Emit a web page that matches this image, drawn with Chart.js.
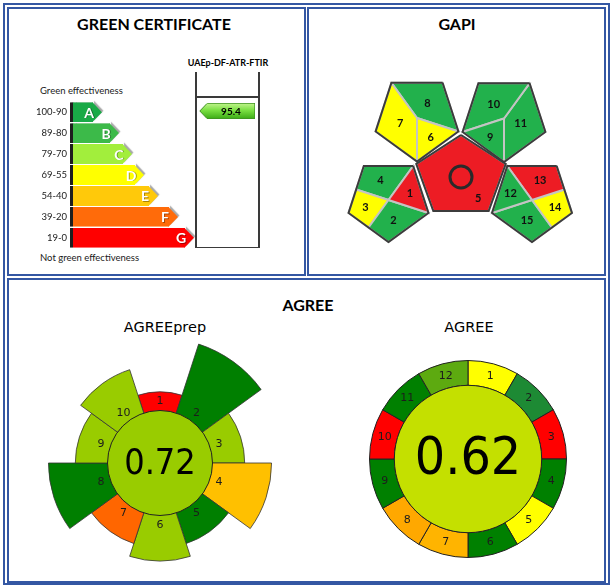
<!DOCTYPE html>
<html>
<head>
<meta charset="utf-8">
<title>Greenness assessment</title>
<script src="https://cdn.jsdelivr.net/npm/chart.js@4.4.1/dist/chart.umd.min.js"></script>
<style>
  body { margin: 0; background: #fff; }
  #page { position: relative; width: 614px; height: 586px; overflow: hidden; font-family: Lato, sans-serif; color: #000; }
  .box { position: absolute; box-sizing: border-box; border: 2px solid #3457a3; }
  .txt { position: absolute; white-space: nowrap; line-height: 1; }
  .title { font-weight: bold; font-size: 16px; text-align: center; }
  .sub { font-family: 'DejaVu Sans', sans-serif; font-size: 14.5px; text-align: center; }
  .small { font-size: 9.5px; color: #1a1a1a; }
  .line { position: absolute; background: #3a3a3a; }
  canvas { position: absolute; }
</style>
</head>
<body>
<div id="page">
  <div class="box" style="left:3px;top:3px;width:607px;height:582px"></div>
  <div class="box" style="left:7px;top:7px;width:299px;height:269px"></div>
  <div class="box" style="left:307px;top:7px;width:299px;height:269px"></div>
  <div class="box" style="left:7px;top:278px;width:599px;height:305px"></div>

  <div class="txt title" style="left:4px;top:16px;width:300px">GREEN CERTIFICATE</div>
  <div class="txt title" style="left:307px;top:16px;width:300px">GAPI</div>
  <div class="txt title" style="left:158px;top:297px;width:300px">AGREE</div>
  <div class="txt sub" style="left:105px;top:320px;width:120px">AGREEprep</div>
  <div class="txt sub" style="left:409px;top:320px;width:120px">AGREE</div>

  <div class="txt small" style="left:40px;top:86px">Green effectiveness</div>
  <div class="txt small" style="left:40px;top:253px">Not green effectiveness</div>

  <div class="txt" id="methodName" style="left:178px;top:58px;width:100px;text-align:center;font-weight:bold;font-size:9px"></div>
  <div class="line" style="left:195px;top:72px;width:1.5px;height:176px"></div>
  <div class="line" style="left:258px;top:72px;width:1.5px;height:176px"></div>
  <div class="line" style="left:195px;top:96px;width:64.5px;height:1.5px"></div>
  <div class="line" style="left:195px;top:246.5px;width:64.5px;height:1.5px"></div>

  <canvas id="grades" width="168" height="164" style="left:30px;top:93px"></canvas>
  <canvas id="score" width="60" height="22" style="left:198px;top:100px"></canvas>
  <canvas id="gapi" width="307" height="276" style="left:307px;top:0px"></canvas>
  <canvas id="prep" width="250" height="250" style="left:35px;top:338px"></canvas>
  <canvas id="agree" width="198" height="198" style="left:369px;top:360px"></canvas>
</div>
<script>
// ---------- data ----------
const gradeLetters = ['A', 'B', 'C', 'D', 'E', 'F', 'G'];
const gradeRanges = ['100-90', '89-80', '79-70', '69-55', '54-40', '39-20', '19-0'];
const gradeBarLengths = [23, 40, 53, 65, 79, 99, 115];
const gradeColors = ['#19aa47', '#3cba49', '#a2ee3c', '#ffff00', '#ffc90a', '#ff6b0a', '#ff0000'];
const methodName = 'UAEp-DF-ATR-FTIR';
const methodScore = 95.4;

const gapiFields = ['1', '2', '3', '4', '5', '6', '7', '8', '9', '10', '11', '12', '13', '14', '15'];
const gapiRatings = ['red', 'green', 'yellow', 'green', 'red', 'yellow', 'yellow', 'green',
                     'green', 'green', 'green', 'green', 'red', 'yellow', 'green'];

const prepCriteria = ['1', '2', '3', '4', '5', '6', '7', '8', '9', '10'];
const prepWeights = [1, 5, 2, 4, 2, 3, 2, 4, 2, 3];
const prepColors = ['#ff0000', '#007f00', '#99cc00', '#ffc000', '#007f00',
                    '#99cc00', '#ff6600', '#007f00', '#99cc00', '#99cc00'];
const prepScore = 0.72;

const agreeCriteria = ['1', '2', '3', '4', '5', '6', '7', '8', '9', '10', '11', '12'];
const agreeWeights = [1, 1, 1, 1, 1, 1, 1, 1, 1, 1, 1, 1];
const agreeColors = ['#ffff00', '#1d8a34', '#ff0000', '#008000', '#ffff00', '#008000',
                     '#ffb400', '#ffa800', '#008000', '#ff0000', '#008000', '#5daa10'];
const agreeScore = 0.62;

document.getElementById('methodName').textContent = methodName;

// ---------- green certificate ----------
function makeArrowTips(cfg) {
  return {
    id: 'arrowTips',
    beforeDatasetsDraw(chart) {
      const ctx = chart.ctx;
      ctx.save();
      if (cfg.shadow) {
        ctx.shadowColor = 'rgba(0,0,0,0.35)';
        ctx.shadowOffsetX = 1.5;
        ctx.shadowOffsetY = -1.5;
        ctx.shadowBlur = 1;
      }
    },
    afterDatasetsDraw(chart) {
      const ctx = chart.ctx;
      const bars = chart.getDatasetMeta(0).data;
      bars.forEach(bar => {
        const dir = Math.sign(bar.x - bar.base) || 1;
        const h = bar.height;
        const top = bar.y - h / 2, bot = bar.y + h / 2;
        ctx.beginPath();
        ctx.moveTo(bar.x - dir * 0.5, top);
        ctx.lineTo(bar.x + dir * h * 0.45, bar.y);
        ctx.lineTo(bar.x - dir * 0.5, bot);
        ctx.closePath();
        ctx.fillStyle = bar.options.backgroundColor;
        ctx.fill();
        if (cfg.stroke) {
          ctx.beginPath();
          ctx.moveTo(bar.x, top + 0.5);
          ctx.lineTo(bar.x + dir * h * 0.45, bar.y);
          ctx.lineTo(bar.x, bot - 0.5);
          ctx.strokeStyle = cfg.stroke;
          ctx.lineWidth = 1;
          ctx.stroke();
        }
      });
      ctx.restore();

      ctx.save();
      ctx.textAlign = 'center';
      ctx.textBaseline = 'middle';
      bars.forEach((bar, i) => {
        if (cfg.letters) {
          ctx.font = 'bold 14px Lato';
          ctx.fillStyle = 'rgba(0,0,0,0.35)';
          ctx.fillText(cfg.letters[i], bar.x - 3, bar.y + 1.5);
          ctx.fillStyle = '#fff';
          ctx.fillText(cfg.letters[i], bar.x - 4, bar.y + 1);
        }
        if (cfg.values) {
          ctx.font = 'bold 10px Lato';
          ctx.fillStyle = '#000';
          ctx.fillText(cfg.values[i].toFixed(1), (bar.x + bar.base) / 2, bar.y + 0.5);
        }
      });
      ctx.restore();
    }
  };
}

new Chart(document.getElementById('grades'), {
  type: 'bar',
  data: {
    labels: gradeRanges,
    datasets: [{
      data: gradeBarLengths,
      backgroundColor: gradeColors,
      borderColor: '#1e1e1e',
      borderWidth: { left: 3, right: 0, top: 0, bottom: 0 },
      borderSkipped: false,
      barPercentage: 0.95,
      categoryPercentage: 1
    }]
  },
  options: {
    indexAxis: 'y',
    responsive: false,
    animation: false,
    layout: { padding: { top: 0, bottom: 0, right: 3 } },
    plugins: { legend: { display: false }, tooltip: { enabled: false } },
    scales: {
      x: { display: false, min: 0, max: 125 },
      y: {
        grid: { display: false, drawTicks: false },
        border: { display: false },
        ticks: { color: '#1a1a1a', font: { family: 'Lato', size: 9.5 }, padding: 3 },
        afterFit(scale) { scale.width = 40; }
      }
    }
  },
  plugins: [makeArrowTips({ letters: gradeLetters, shadow: true })]
});

function scoreFill(c) {
  const area = c.chart.chartArea;
  if (!area) return '#6fd83a';
  const g = c.chart.ctx.createLinearGradient(0, area.top, 0, area.bottom);
  g.addColorStop(0, '#c4f590');
  g.addColorStop(0.45, '#7be043');
  g.addColorStop(1, '#3aa914');
  return g;
}

new Chart(document.getElementById('score'), {
  type: 'bar',
  data: {
    labels: [methodName],
    datasets: [{
      data: [methodScore],
      backgroundColor: scoreFill,
      borderColor: '#3f9222',
      borderWidth: 1,
      borderSkipped: 'end',
      barPercentage: 1,
      categoryPercentage: 1
    }]
  },
  options: {
    indexAxis: 'y',
    responsive: false,
    animation: false,
    layout: { padding: { left: 6.7, right: 3, top: 3, bottom: 3 } },
    plugins: { legend: { display: false }, tooltip: { enabled: false } },
    scales: {
      x: { display: false, min: 0, max: 100, reverse: true },
      y: { display: false }
    }
  },
  plugins: [makeArrowTips({ values: [methodScore], stroke: '#3f9222' })]
});

// ---------- GAPI ----------
const gapiShades = { green: '#22b14c', yellow: '#ffff00', red: '#ed1c24' };
// pentagon frames in panel pixels: centre, radii, angle of first corner
const gapiPentagons = {
  ul: { cx: 110, cy: 118, rx: 43.5, ry: 43.5, rot: 36 },
  ur: { cx: 197, cy: 118.5, rx: 43.5, ry: 43.5, rot: 36 },
  ll: { cx: 81.5, cy: 200, rx: 42, ry: 42, rot: 36 },
  lr: { cx: 225, cy: 200, rx: 42, ry: 42, rot: 36 },
  mid: { cx: 154, cy: 177, rx: 47, ry: 42, rot: 0 }
};
// corners (v), edge midpoints (m) and hub (c) making up each field
const gapiShapes = [
  ['ll', ['c', 'v0', 'v1']],
  ['ll', ['c', 'v1', 'v2', 'm23']],
  ['ll', ['c', 'm23', 'v3', 'm34']],
  ['ll', ['v4', 'v0', 'c', 'm34']],
  ['mid', ['v0', 'v1', 'v2', 'v3', 'v4']],
  ['ul', ['c', 'v2', 'v1']],
  ['ul', ['v4', 'v3', 'v2', 'c']],
  ['ul', ['c', 'v1', 'v0', 'v4']],
  ['ur', ['c', 'v2', 'v3']],
  ['ur', ['c', 'v3', 'v4', 'v0']],
  ['ur', ['c', 'v0', 'v1', 'v2']],
  ['lr', ['c', 'v4', 'v3']],
  ['lr', ['c', 'v4', 'v0', 'm01']],
  ['lr', ['c', 'm01', 'v1', 'm12']],
  ['lr', ['c', 'm12', 'v2', 'v3']]
];

function pentPoint(p, key) {
  if (key === 'c') return { x: p.cx, y: p.cy };
  if (key[0] === 'v') {
    const a = (p.rot + Number(key[1]) * 72) * Math.PI / 180;
    return { x: p.cx + p.rx * Math.sin(a), y: p.cy - p.ry * Math.cos(a) };
  }
  const a = pentPoint(p, 'v' + key[1]), b = pentPoint(p, 'v' + key[2]);
  return { x: (a.x + b.x) / 2, y: (a.y + b.y) / 2 };
}

const fieldPoints = gapiShapes.map(([name, keys]) => keys.map(k => pentPoint(gapiPentagons[name], k)));
const closed = pts => pts.concat([pts[0]]);

const gapiSets = fieldPoints.map((pts, i) => ({
  label: gapiFields[i],
  data: closed(pts),
  backgroundColor: gapiShades[gapiRatings[i]],
  borderColor: '#c4c4c4',
  borderWidth: 2,
  fill: 'shape',
  pointRadius: 0,
  tension: 0,
  order: 2
}));
Object.keys(gapiPentagons).forEach(name => {
  const p = gapiPentagons[name];
  gapiSets.push({
    data: closed(['v0', 'v1', 'v2', 'v3', 'v4'].map(k => pentPoint(p, k))),
    borderColor: '#3c3c3c',
    borderWidth: 2,
    fill: false,
    pointRadius: 0,
    tension: 0,
    order: 1
  });
});
gapiSets.push({
  data: [pentPoint(gapiPentagons.mid, 'c')],
  showLine: false,
  pointRadius: 11,
  pointBorderWidth: 3,
  pointBorderColor: '#2a2a2a',
  pointBackgroundColor: 'rgba(0,0,0,0)',
  order: 0
});

const gapiLabels = {
  id: 'gapiLabels',
  afterDatasetsDraw(chart) {
    const ctx = chart.ctx, sx = chart.scales.x, sy = chart.scales.y;
    ctx.save();
    ctx.font = 'bold 11px Lato';
    ctx.fillStyle = '#111';
    ctx.textAlign = 'center';
    ctx.textBaseline = 'middle';
    fieldPoints.forEach((pts, i) => {
      let x = pts.reduce((s, p) => s + p.x, 0) / pts.length;
      let y = pts.reduce((s, p) => s + p.y, 0) / pts.length;
      if (gapiShapes[i][0] === 'mid') {
        // the hub carries the circle, so the number sits towards the lower right
        x = x + (pts[2].x - x) * 0.62;
        y = y + (pts[2].y - y) * 0.62;
      }
      ctx.fillText(gapiFields[i], sx.getPixelForValue(x), sy.getPixelForValue(y));
    });
    ctx.restore();
  }
};

new Chart(document.getElementById('gapi'), {
  type: 'line',
  data: { datasets: gapiSets },
  options: {
    responsive: false,
    animation: false,
    layout: { padding: 0, autoPadding: false },
    plugins: { legend: { display: false }, tooltip: { enabled: false } },
    scales: {
      x: { type: 'linear', display: false, min: 0, max: 307 },
      y: { type: 'linear', display: false, min: 0, max: 276, reverse: true }
    }
  },
  plugins: [gapiLabels]
});

// ---------- AGREE / AGREEprep ----------
function makeHub(cfg) {
  return {
    id: 'hub',
    afterDatasetsDraw(chart) {
      const ctx = chart.ctx;
      const arcs = chart.getDatasetMeta(0).data;
      const cx = arcs[0].x, cy = arcs[0].y;
      const hubR = cfg.polar ? chart.scales.r.drawingArea * 0.42 : arcs[0].innerRadius;
      ctx.save();
      ctx.font = '11px "DejaVu Sans"';
      ctx.fillStyle = '#1c1c1c';
      ctx.textAlign = 'center';
      ctx.textBaseline = 'middle';
      arcs.forEach((arc, i) => {
        const a = (arc.startAngle + arc.endAngle) / 2;
        const r = cfg.polar ? hubR + 9.5 : (arc.innerRadius + arc.outerRadius) / 2;
        ctx.fillText(chart.data.labels[i], cx + r * Math.cos(a), cy + r * Math.sin(a));
      });
      ctx.beginPath();
      ctx.arc(cx, cy, hubR, 0, Math.PI * 2);
      ctx.fillStyle = cfg.hubColor;
      ctx.fill();
      ctx.lineWidth = 1;
      ctx.strokeStyle = '#222';
      ctx.stroke();
      ctx.fillStyle = '#000';
      ctx.font = cfg.scoreSize + 'px "DejaVu Sans"';
      ctx.textBaseline = 'alphabetic';
      ctx.translate(cx, cy + cfg.scoreShift);
      ctx.scale(0.92, 1);
      ctx.fillText(cfg.score.toFixed(2), 0, 0);
      ctx.restore();
    }
  };
}

new Chart(document.getElementById('prep'), {
  type: 'polarArea',
  data: {
    labels: prepCriteria,
    datasets: [{ data: prepWeights, backgroundColor: prepColors, borderColor: '#333', borderWidth: 0.8 }]
  },
  options: {
    responsive: false,
    animation: false,
    plugins: { legend: { display: false }, tooltip: { enabled: false } },
    scales: {
      r: {
        min: -4.3, max: 5,
        startAngle: -18,
        ticks: { display: false },
        grid: { display: false },
        angleLines: { display: false },
        pointLabels: { display: false }
      }
    }
  },
  plugins: [makeHub({ polar: true, hubColor: '#99cc00', score: prepScore, scoreSize: 35, scoreShift: 11 })]
});

new Chart(document.getElementById('agree'), {
  type: 'doughnut',
  data: {
    labels: agreeCriteria,
    datasets: [{ data: agreeWeights, backgroundColor: agreeColors, borderColor: '#222', borderWidth: 1 }]
  },
  options: {
    responsive: false,
    animation: false,
    cutout: '74.8%',
    plugins: { legend: { display: false }, tooltip: { enabled: false } }
  },
  plugins: [makeHub({ polar: false, hubColor: '#c4e000', score: agreeScore, scoreSize: 52, scoreShift: 15 })]
});
</script>
</body>
</html>
